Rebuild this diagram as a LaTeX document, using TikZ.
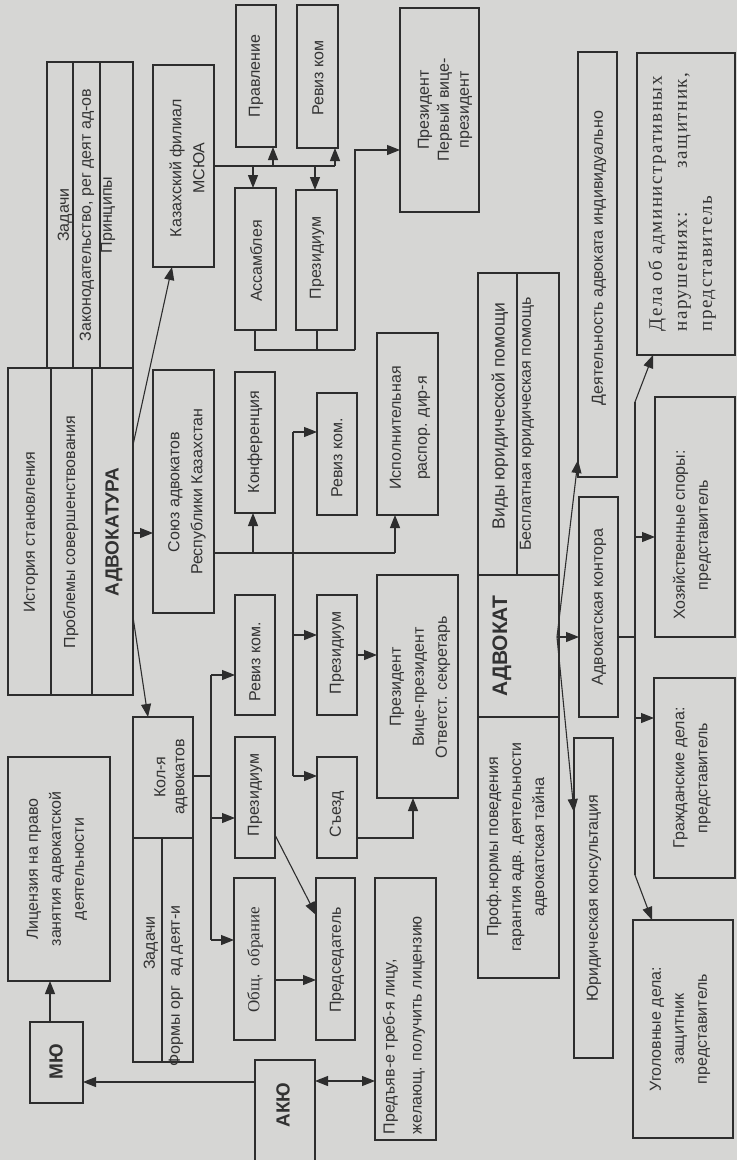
\documentclass[tikz,border=0pt]{standalone}
\usepackage{fontspec}
\newfontfamily\sansf{Liberation Sans}
\newfontfamily\seriff{Liberation Serif}
\usetikzlibrary{arrows.meta}
\definecolor{bgc}{RGB}{214,214,212}
\definecolor{lc}{RGB}{45,45,45}
\definecolor{tc}{RGB}{50,50,50}
\tikzset{
 bx/.style={draw=lc, line width=1.1pt, inner sep=0pt, outer sep=0pt, fill=bgc},
 corners/.style n args={4}{at={({(#1+#3)/2},{(#2+#4)/2})}, minimum width={(#3-#1)*1pt}, minimum height={(#4-#2)*1pt}},
 tx/.style={rotate=90, align=center, text=tc, inner sep=0pt, font=\sansf\fontsize{16}{23}\selectfont},
 bold/.style={font=\sansf\bfseries\fontsize{19}{23}\selectfont},
 ln/.style={draw=lc, line width=1.1pt},
 arr/.style={ln, -{Triangle[length=13pt,width=10pt]}},
 arrb/.style={ln, {Triangle[length=13pt,width=10pt]}-{Triangle[length=13pt,width=10pt]}},
}
\begin{document}
\begin{tikzpicture}[x=1pt,y=-1pt]
\useasboundingbox (0,0) rectangle (737,1160);
\fill[bgc] (0,0) rectangle (737,1160);
% ---------- boxes ----------
\node[bx, corners={47}{62}{73}{368}] (zad1) {};
\node[bx, corners={73}{62}{100}{368}] (zak) {};
\node[bx, corners={100}{62}{133}{368}] (prin) {};
\node[bx, corners={8}{368}{51}{695}] (ist) {};
\node[bx, corners={51}{368}{92}{695}] (prob) {};
\node[bx, corners={92}{368}{133}{695}] (advk) {};
\node[bx, corners={8}{757}{110}{981}] (lic) {};
\node[bx, corners={30}{1022}{83}{1103}] (mu) {};
\node[bx, corners={153}{65}{214}{267}] (kaz) {};
\node[bx, corners={153}{370}{214}{613}] (soyuz) {};
\node[bx, corners={133}{717}{193}{838}] (kol) {};
\node[bx, corners={133}{838}{162}{1062}] (zad2) {};
\node[bx, corners={162}{838}{193}{1062}] (form) {};
\node[bx, corners={255}{1060}{315}{1180}] (aku) {};
\node[bx, corners={236}{5}{276}{147}] (prav) {};
\node[bx, corners={297}{5}{338}{148}] (rev1) {};
\node[bx, corners={235}{188}{276}{330}] (assa) {};
\node[bx, corners={296}{190}{337}{330}] (prez1) {};
\node[bx, corners={400}{8}{479}{212}] (pres1) {};
\node[bx, corners={235}{372}{275}{513}] (konf) {};
\node[bx, corners={317}{393}{357}{515}] (rev2) {};
\node[bx, corners={377}{333}{438}{515}] (isp) {};
\node[bx, corners={235}{595}{275}{715}] (rev3) {};
\node[bx, corners={317}{595}{357}{715}] (prez2) {};
\node[bx, corners={235}{737}{275}{858}] (prez3) {};
\node[bx, corners={317}{757}{357}{858}] (sezd) {};
\node[bx, corners={377}{575}{458}{798}] (pres2) {};
\node[bx, corners={234}{878}{275}{1040}] (obsh) {};
\node[bx, corners={316}{878}{355}{1040}] (pred) {};
\node[bx, corners={375}{878}{436}{1140}] (treb) {};
\node[bx, corners={478}{273}{517}{575}] (vidy) {};
\node[bx, corners={517}{273}{559}{575}] (besp) {};
\node[bx, corners={478}{575}{559}{717}] (advt) {};
\node[bx, corners={478}{717}{559}{978}] (prof) {};
\node[bx, corners={578}{52}{617}{477}] (deyat) {};
\node[bx, corners={579}{497}{618}{717}] (kont) {};
\node[bx, corners={574}{738}{613}{1058}] (yurk) {};
\node[bx, corners={637}{53}{735}{355}] (dela) {};
\node[bx, corners={655}{397}{735}{637}] (hoz) {};
\node[bx, corners={654}{678}{735}{878}] (grazh) {};
\node[bx, corners={633}{920}{733}{1138}] (ugol) {};
% ---------- texts ----------
\node[tx] (zad1-t) at (65,215) {Задачи};
\node[tx] (zak-t) at (87,215) {Законодательство, рег деят ад-ов};
\node[tx] (prin-t) at (108,215) {Принципы};
\node[tx] (ist-t) at (31,532) {История становления};
\node[tx] (prob-t) at (71,532) {Проблемы совершенствования};
\node[tx, bold] (advk-t) at (114,532) {АДВОКАТУРА};
\node[tx] (lic-t) at (57,869) {Лицензия на право\\занятия адвокатской\\деятельности};
\node[tx, bold] (mu-t) at (56,1062) {МЮ};
\node[tx] (kaz-t) at (187,168) {Казахский филиал\\МСЮА};
\node[tx] (soyuz-t) at (187,492) {Союз адвокатов\\Республики Казахстан};
\node[tx, font=\sansf\fontsize{16}{19}\selectfont] (kol-t) at (171,777) {Кол-я\\адвокатов};
\node[tx] (zad2-t) at (151,943) {Задачи};
\node[tx] (form-t) at (176,986) {Формы орг\ \ ад деят-и};
\node[tx, bold] (aku-t) at (283,1105) {АКЮ};
\node[tx] (prav-t) at (256,76) {Правление};
\node[tx] (rev1-t) at (318,78) {Ревиз ком};
\node[tx] (assa-t) at (256,261) {Ассамблея};
\node[tx] (prez1-t) at (317,258) {Президиум};
\node[tx, font=\sansf\fontsize{16}{20}\selectfont] (pres1-t) at (445,110) {Президент\\Первый вице-\\президент};
\node[tx] (konf-t) at (255,442) {Конференция};
\node[tx] (rev2-t) at (337,458) {Ревиз ком.};
\node[tx, font=\sansf\fontsize{16}{26}\selectfont] (isp-t) at (410,428) {Исполнительная\\распор. дир-я};
\node[tx] (rev3-t) at (255,662) {Ревиз ком.};
\node[tx] (prez2-t) at (337,653) {Президиум};
\node[tx] (prez3-t) at (255,795) {Президиум};
\node[tx] (sezd-t) at (337,814) {Съезд};
\node[tx] (pres2-t) at (420,687) {Президент\\Вице-президент\\Ответст. секретарь};
\node[tx, font=\seriff\fontsize{17}{23}\selectfont] (obsh-t) at (255,960) {Общ.\ \ обрание};
\node[tx] (pred-t) at (337,960) {Председатель};
\node[tx, align=left, font=\sansf\fontsize{16}{27}\selectfont] (treb-t) at (404,1025) {Предъяв-е треб-я лицу,\\желающ. получить лицензию};
\node[tx, font=\sansf\fontsize{17.5}{23}\selectfont] (vidy-t) at (500,416) {Виды юридической помощи};
\node[tx] (besp-t) at (527,424) {Бесплатная юридическая помощь};
\node[tx, font=\sansf\bfseries\fontsize{21}{23}\selectfont] (advt-t) at (502,646) {АДВОКАТ};
\node[tx] (prof-t) at (517,847) {Проф.нормы поведения\\гарантия адв. деятельности\\адвокатская тайна};
\node[tx] (deyat-t) at (599,258) {Деятельность адвоката индивидуально};
\node[tx] (kont-t) at (599,607) {Адвокатская контора};
\node[tx] (yurk-t) at (594,898) {Юридическая консультация};
\node[tx, align=left, font=\seriff\fontsize{19}{25}\selectfont\addfontfeatures{LetterSpace=8}] (dela-t) at (682,202) {Дела об административных\\нарушениях:\hspace{44pt}защитник,\\представитель};
\node[tx] (hoz-t) at (692,535) {Хозяйственные споры:\\представитель};
\node[tx] (grazh-t) at (692,778) {Гражданские дела:\\представитель};
\node[tx] (ugol-t) at (680,1029) {Уголовные дела:\\защитник\\представитель};
% ---------- connectors ----------
\draw[arr] (advk.east |- 0,445) -- (kaz.south -| 172,0);
\draw[arr] (advk.east |- 0,533) -- (soyuz.west |- 0,533);
\draw[arr] (advk.east |- 0,617) -- (kol.north -| 148,0);
% Kol-ya bus
\coordinate (kbT) at (211,675);
\coordinate (kbB) at (211,940);
\draw[ln] (kbT) -- (kbB);
\draw[ln] (kol.east |- 0,776) -- (kbT |- 0,776);
\draw[arr] (kbT) -- (rev3.west |- kbT);
\draw[arr] (kbT |- 0,818) -- (prez3.west |- 0,818);
\draw[arr] (kbB) -- (obsh.west |- kbB);
% Soyuz bus
\coordinate (sbR) at (395,553);
\coordinate (svT) at (293,432);
\coordinate (svB) at (293,776);
\draw[ln] (soyuz.east |- sbR) -- (sbR);
\draw[arr] (konf.south |- sbR) ++(-2,0) coordinate (sbK) -- (sbK |- konf.south);
\draw[arr] (sbR) -- (sbR |- isp.south);
\draw[ln] (svT) -- (svB);
\draw[arr] (svT) -- (rev2.west |- svT);
\draw[arr] (svT |- 0,635) -- (prez2.west |- 0,635);
\draw[arr] (svB) -- (sezd.west |- svB);
\draw[arr] (prez3.east |- 0,835) -- (pred.west |- 0,915);
\draw[arr] (obsh.east |- 0,980) -- (pred.west |- 0,980);
\draw[arr] (sezd.east |- 0,838) -| (pres2.south -| 413,0);
\draw[arr] (prez2.east |- 0,655) -- (pres2.west |- 0,655);
% Kazakh branch bus
\coordinate (kzR) at (335,166);
\draw[ln] (kaz.east) -- (kzR);
\draw[arr] (prav.south -| 273,0) ++(0,19) coordinate (kzP) -- (kzP |- prav.south);
\draw[arr] (kzR) -- (kzR |- rev1.south);
\draw[arr] (assa.north -| 253,0) ++(0,-22) coordinate (kzA) -- (kzA |- assa.north);
\draw[arr] (prez1.north -| 315,0) ++(0,-24) coordinate (kzZ) -- (kzZ |- prez1.north);
\coordinate (abL) at (255,350);
\coordinate (abR) at (355,350);
\draw[ln] (assa.south -| abL) -- (abL) -- (abR);
\draw[ln] (prez1.south -| 317,0) -- (317,350);
\draw[arr] (abR) |- (pres1.west |- 0,150);
% MU / AKU
\draw[arr] (mu.north -| 50,0) -- (lic.south -| 50,0);
\draw[arr] (aku.west |- 0,1082) -- (mu.east |- 0,1082);
\draw[arrb] (aku.east |- 0,1081) -- (treb.west |- 0,1081);
% Advokat
\coordinate (aj) at (557,637);
\draw[arr] (aj) -- (kont.west |- aj);
\draw[arr] (aj) -- (deyat.west |- 0,460);
\draw[arr] (aj) -- (yurk.west |- 0,812);
% Kontora bus
\coordinate (kvT) at (635,402);
\coordinate (kvB) at (635,875);
\draw[ln] (kont.east |- 0,637) -- (kvT |- 0,637);
\draw[ln] (kvT) -- (kvB);
\draw[arr] (kvT) -- (dela.south -| 653,0);
\draw[arr] (kvT |- 0,537) -- (hoz.west |- 0,537);
\draw[arr] (kvT |- 0,718) -- (grazh.west |- 0,718);
\draw[arr] (kvB) -- (ugol.north -| 652,0);
\end{tikzpicture}
\end{document}
